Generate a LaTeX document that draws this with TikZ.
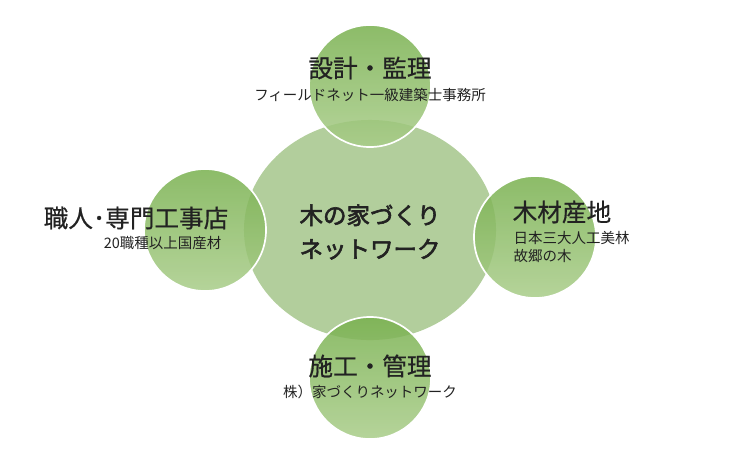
\documentclass[tikz,border=0pt]{standalone}
\usepackage{fontspec}
\setmainfont{Noto Sans CJK JP}
\newfontfamily\boldjp[FakeBold=2.5]{Noto Sans CJK JP}
\newfontfamily\semijp[FakeBold=0.6]{Noto Sans CJK JP}
\usetikzlibrary{positioning,shapes.geometric}
\definecolor{hubgreen}{HTML}{B2CE9C}
\definecolor{leaftop}{HTML}{78B04E}
\definecolor{leafbot}{HTML}{A8CC88}
\definecolor{inkgray}{HTML}{222222}
\tikzset{
  leaf/.style={circle,draw=white,line width=1.2pt,minimum size=3.05cm,
    top color=leaftop,bottom color=leafbot,fill opacity=0.85},
  title/.style={text=inkgray,font=\semijp\fontsize{17.5}{20}\selectfont,align=left,inner sep=1pt},
  sub/.style={text=inkgray,font=\fontsize{10.3}{12}\selectfont,align=left,inner sep=1pt}
}
\begin{document}
\begin{tikzpicture}[x=0.025cm,y=-0.025cm]
        \useasboundingbox (0,0) rectangle (740,463);
        \node[ellipse,fill=hubgreen,minimum width=6.3cm,minimum height=5.5cm,inner sep=0pt] (hub) at (370,230){};
        \node[leaf] (top) at (370,86){};
        \node[leaf] (left) at (205,230){};
        \node[leaf] (right) at (535,237){};
        \node[leaf] (bottom) at (370,378){};

        \node[text=inkgray,font=\boldjp\fontsize{16.7}{24}\selectfont,align=center] (hubtxt) at (370,232){木の家づくり\\ネットワーク};

        \node[title] (toptitle) at (370,68){設計・監理};
        \node[sub] (topsub) at (370,95){フィールドネット一級建築士事務所};
        \node[title,anchor=east] (lefttitle) at (230,218){職人･専門工事店};
        \node[sub,anchor=east] (leftsub) at (223,243){20職種以上国産材};
        \node[title,anchor=west] (righttitle) at (511,212){木材産地};
        \node[sub,anchor=west] (rightsub) at (512,238){日本三大人工美林};
        \node[sub,anchor=west] (rightsub2) at (512,256){故郷の木};
        \node[title] (bottomtitle) at (370,366){施工・管理};
        \node[sub] (bottomsub) at (370,392){株）家づくりネットワーク};
    \end{tikzpicture}
\end{document}
